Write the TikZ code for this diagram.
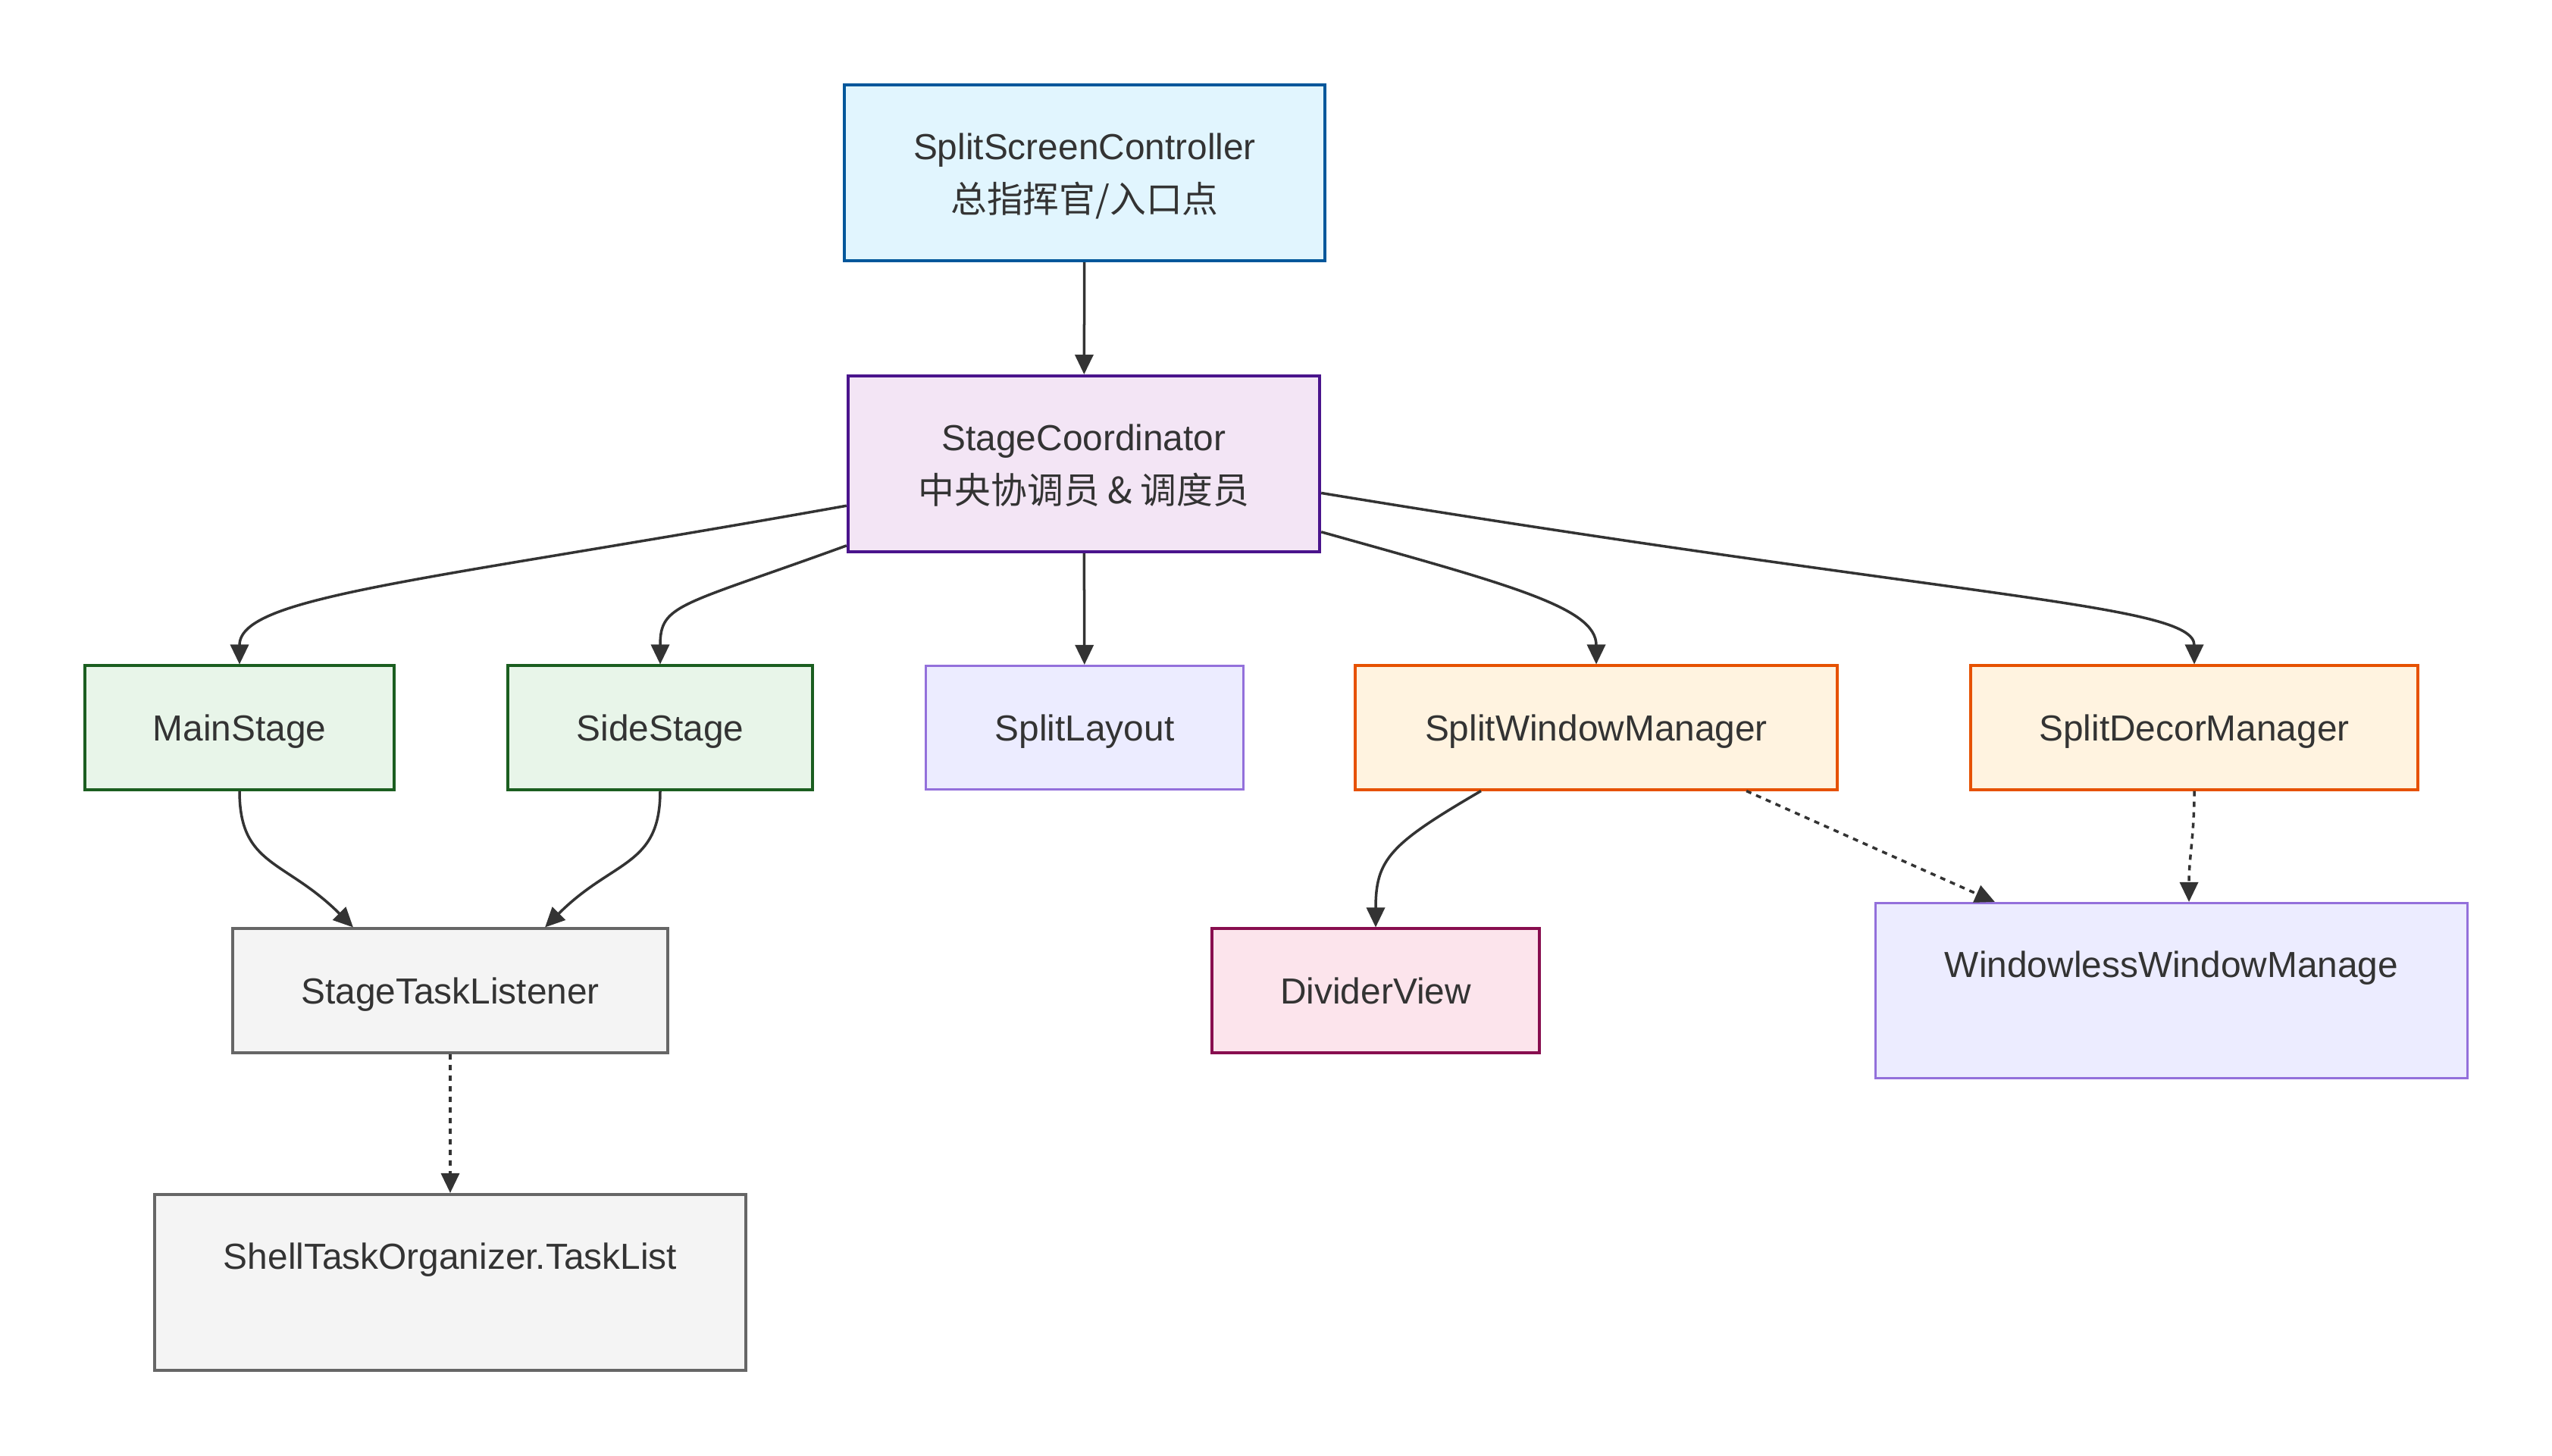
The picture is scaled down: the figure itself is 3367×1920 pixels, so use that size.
\documentclass[tikz,border=0pt]{standalone}
\usepackage{fontspec}
\setmainfont{Liberation Sans}
\newfontfamily\cjk{Noto Sans CJK SC}
\usepackage{tikz}
\usetikzlibrary{arrows.meta}

\definecolor{txtgray}{HTML}{333333}
\definecolor{sscfill}{HTML}{E1F5FE}
\definecolor{sscline}{HTML}{01579B}
\definecolor{scfill}{HTML}{F3E5F5}
\definecolor{scline}{HTML}{4A148C}
\definecolor{stagefill}{HTML}{E8F5E9}
\definecolor{stageline}{HTML}{1B5E20}
\definecolor{mgrfill}{HTML}{FFF3E0}
\definecolor{mgrline}{HTML}{E65100}
\definecolor{taskfill}{HTML}{F4F4F4}
\definecolor{taskline}{HTML}{666666}
\definecolor{divfill}{HTML}{FCE4EC}
\definecolor{divline}{HTML}{880E4F}
\definecolor{deffill}{HTML}{ECECFF}
\definecolor{defline}{HTML}{9370DB}

\begin{document}
\begin{tikzpicture}[x=0.01cm,y=-0.01cm,
  box/.style={draw,rectangle,inner sep=0pt,align=center,line width=0.04cm,text depth=0pt,
    text=txtgray,font=\fontsize{13.6}{19.8}\selectfont},
  link/.style={draw=txtgray,line width=0.035cm,-{Triangle[length=0.26cm,width=0.24cm]}},
  dotlink/.style={link,dash pattern=on 0.07cm off 0.07cm}]
\useasboundingbox (0,0) rectangle (3367,1920);

% top of the tree
\node[box,fill=sscfill,draw=sscline,minimum width=6.34cm,minimum height=2.32cm] (ssc) at (1431,228)
  {SplitScreenController\\{\cjk 总指挥官/入口点}};
\node[box,fill=scfill,draw=scline,minimum width=6.22cm,minimum height=2.32cm] (sc) at (1430,612)
  {StageCoordinator\\{\cjk 中央协调员 \& 调度员}};

% second row
\node[box,fill=stagefill,draw=stageline,minimum width=4.08cm,minimum height=1.63cm] (ms) at (316,960) {MainStage};
\node[box,fill=stagefill,draw=stageline,minimum width=4.01cm,minimum height=1.63cm] (ss) at (871,960) {SideStage};
\node[box,fill=deffill,draw=defline,line width=0.03cm,minimum width=4.18cm,minimum height=1.63cm] (sl) at (1431,960) {SplitLayout};
\node[box,fill=mgrfill,draw=mgrline,minimum width=6.36cm,minimum height=1.63cm] (swm) at (2106,960) {SplitWindowManager};
\node[box,fill=mgrfill,draw=mgrline,minimum width=5.90cm,minimum height=1.63cm] (sdm) at (2895,960) {SplitDecorManager};

% third row
\node[box,fill=taskfill,draw=taskline,minimum width=5.73cm,minimum height=1.63cm] (stl) at (594,1307) {StageTaskListener};
\node[box,fill=divfill,draw=divline,minimum width=4.31cm,minimum height=1.63cm] (dv) at (1815,1307) {DividerView};
\node[box,fill=deffill,draw=defline,line width=0.03cm,minimum width=7.80cm,minimum height=2.31cm] (wwm) at (2865,1307) {WindowlessWindowManage\\~};

% bottom
\node[box,fill=taskfill,draw=taskline,minimum width=7.79cm,minimum height=2.32cm] (sto) at (594,1692) {ShellTaskOrganizer.TaskList\\~};

\draw[link] (ssc) -- (sc);
\draw[link] (sc.190) .. controls +(-560,100) and +(0,-90) .. (ms.north);
\draw[link] (sc.199) .. controls +(-220,80) and +(0,-80) .. (ss.north);
\draw[link] (sc) -- (sl);
\draw[link] (sc.-16) .. controls +(250,70) and +(0,-75) .. (swm.north);
\draw[link] (sc.-7.5) .. controls +(850,140) and +(0,-80) .. (sdm.north);
\draw[link] (ms.south) .. controls +(0,100) and +(-90,-90) .. ([xshift=-1.28cm]stl.north);
\draw[link] (ss.south) .. controls +(0,100) and +(90,-90) .. ([xshift=1.25cm]stl.north);
\draw[dotlink] (stl) -- (sto);
\draw[link] ([xshift=-1.52cm]swm.south) .. controls +(-120,70) and +(0,-90) .. (dv.north);
\draw[dotlink] ([xshift=1.98cm]swm.south) -- ([xshift=-2.33cm]wwm.north);
\draw[dotlink] (sdm.south) .. controls +(0,60) and +(0,-60) .. ([xshift=0.23cm]wwm.north);
\end{tikzpicture}
\end{document}
